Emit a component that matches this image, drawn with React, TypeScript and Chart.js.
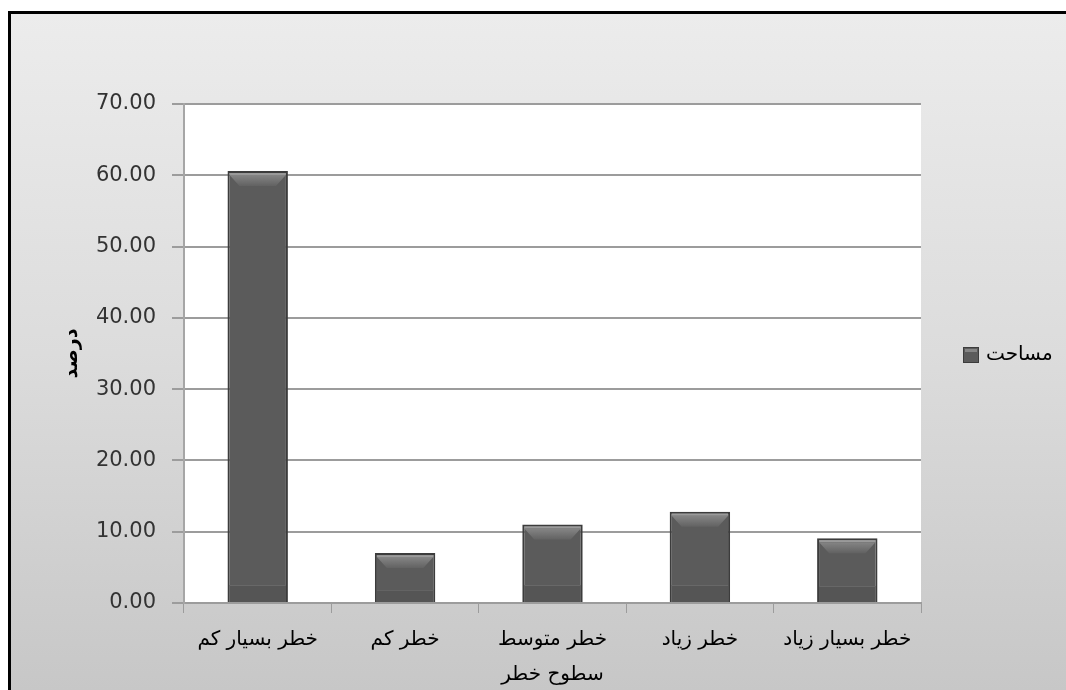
import React, { useEffect, useRef } from "react";
import { Chart, registerables } from "chart.js";

Chart.register(...registerables);

// Risk levels and the share of area in each (percent)
const categories = ["خطر بسیار کم", "خطر کم", "خطر متوسط", "خطر زیاد", "خطر بسیار زیاد"];
const areaPercent = [60.6, 7.0, 11.0, 12.8, 9.1];
const seriesName = "مساحت";
const xTitle = "سطوح خطر";
const yTitle = "درصد";
const yMin = 0;
const yMax = 70;
const yStep = 10;

const FONT = "'DejaVu Sans', sans-serif";
const BAR_FILL = "#5b5b5b";
const BAR_EDGE = "#3c3c3c";

// White plotting area behind the grid
const plotBackground = {
  id: "plotBackground",
  beforeDraw(chart: any) {
    const { ctx, chartArea } = chart;
    ctx.save();
    ctx.fillStyle = "#ffffff";
    ctx.fillRect(chartArea.left, chartArea.top, chartArea.right - chartArea.left, chartArea.bottom - chartArea.top);
    ctx.restore();
  },
};

// Bevelled top and a darker foot on every column
const barBevel = {
  id: "barBevel",
  afterDatasetsDraw(chart: any) {
    const { ctx } = chart;
    const meta = chart.getDatasetMeta(0);
    ctx.save();
    meta.data.forEach((bar: any) => {
      const { x, y, base, width } = bar.getProps(["x", "y", "base", "width"], true);
      const l = x - width / 2 + 2;
      const r = x + width / 2 - 2;
      const h = base - y;
      const bevel = Math.min(11, h / 3);
      // light rim
      ctx.fillStyle = "#9a9a9a";
      ctx.fillRect(l, y + 2, r - l, 2);
      // sloped face
      const g = ctx.createLinearGradient(0, y + 4, 0, y + 4 + bevel);
      g.addColorStop(0, "#858585");
      g.addColorStop(1, "#626262");
      ctx.fillStyle = g;
      ctx.beginPath();
      ctx.moveTo(l, y + 4);
      ctx.lineTo(r, y + 4);
      ctx.lineTo(r - 10, y + 4 + bevel);
      ctx.lineTo(l + 10, y + 4 + bevel);
      ctx.closePath();
      ctx.fill();
      // foot band
      const foot = Math.min(17, h / 4);
      ctx.fillStyle = "#555555";
      ctx.fillRect(l, base - foot, r - l, foot);
      ctx.fillStyle = "#686868";
      ctx.fillRect(l, base - foot, r - l, 1);
    });
    ctx.restore();
  },
};

// Legend entry at the right of the plot
const sideLegend = {
  id: "sideLegend",
  afterDraw(chart: any) {
    const { ctx } = chart;
    const ds = chart.data.datasets[0];
    const bx = 952;
    const by = 333;
    const s = 16;
    ctx.save();
    ctx.fillStyle = ds.backgroundColor;
    ctx.fillRect(bx, by, s, s);
    ctx.fillStyle = "#858585";
    ctx.fillRect(bx + 2, by + 2, s - 4, 3);
    ctx.strokeStyle = BAR_EDGE;
    ctx.lineWidth = 1;
    ctx.strokeRect(bx + 0.5, by + 0.5, s - 1, s - 1);
    ctx.fillStyle = "#000000";
    ctx.font = `20px ${FONT}`;
    ctx.textAlign = "left";
    ctx.textBaseline = "middle";
    ctx.fillText(ds.label, bx + s + 7, by + s / 2);
    ctx.restore();
  },
};

export default function App() {
  const canvasRef = useRef<HTMLCanvasElement | null>(null);

  useEffect(() => {
    const canvas = canvasRef.current;
    if (!canvas) return;
    const chart = new Chart(canvas, {
      type: "bar",
      data: {
        labels: categories,
        datasets: [
          {
            label: seriesName,
            data: areaPercent,
            backgroundColor: BAR_FILL,
            borderColor: BAR_EDGE,
            borderWidth: 2,
            barPercentage: 0.41,
            categoryPercentage: 1,
          },
        ],
      },
      options: {
        responsive: false,
        animation: false,
        layout: { padding: { top: 90, right: 145, left: 0, bottom: 0 } },
        plugins: {
          legend: { display: false },
          tooltip: { enabled: false },
        },
        scales: {
          x: {
            afterFit(scale: any) {
              scale.height = 87;
            },
            grid: {
              display: true,
              drawOnChartArea: false,
              drawTicks: true,
              tickLength: 10,
              color: "#9c9c9c",
              lineWidth: 1,
            },
            border: { display: true, color: "#9c9c9c", width: 2 },
            ticks: {
              color: "#000000",
              font: { family: FONT, size: 20 },
              padding: 15,
              maxRotation: 0,
              autoSkip: false,
            },
            title: {
              display: true,
              text: xTitle,
              color: "#000000",
              font: { family: FONT, size: 20 },
              padding: { top: 0, bottom: 3 },
            },
          },
          y: {
            min: yMin,
            max: yMax,
            afterFit(scale: any) {
              scale.width = 173;
            },
            grid: {
              color: "#9c9c9c",
              lineWidth: 2,
              tickLength: 12,
              drawTicks: true,
            },
            border: { display: true, color: "#a6a6a6", width: 2 },
            ticks: {
              stepSize: yStep,
              color: "#333333",
              font: { family: FONT, size: 21 },
              padding: 16,
              callback: (v: any) => Number(v).toFixed(2),
            },
            title: {
              display: true,
              text: yTitle,
              color: "#000000",
              font: { family: FONT, size: 19, weight: "bold" },
              padding: { top: 50, bottom: 0 },
            },
          },
        },
      },
      plugins: [plotBackground, barBevel, sideLegend],
    });
    return () => chart.destroy();
  }, []);

  return (
    <div
      style={{
        position: "absolute",
        left: 8,
        top: 11,
        width: 1058,
        height: 679,
        boxSizing: "border-box",
        borderTop: "3px solid #000",
        borderLeft: "3px solid #000",
        background: "linear-gradient(to bottom, #ececec 0%, #dcdcdc 50%, #c7c7c7 100%)",
        overflow: "hidden",
      }}
    >
      <canvas ref={canvasRef} width={1055} height={676} style={{ display: "block" }} />
    </div>
  );
}
